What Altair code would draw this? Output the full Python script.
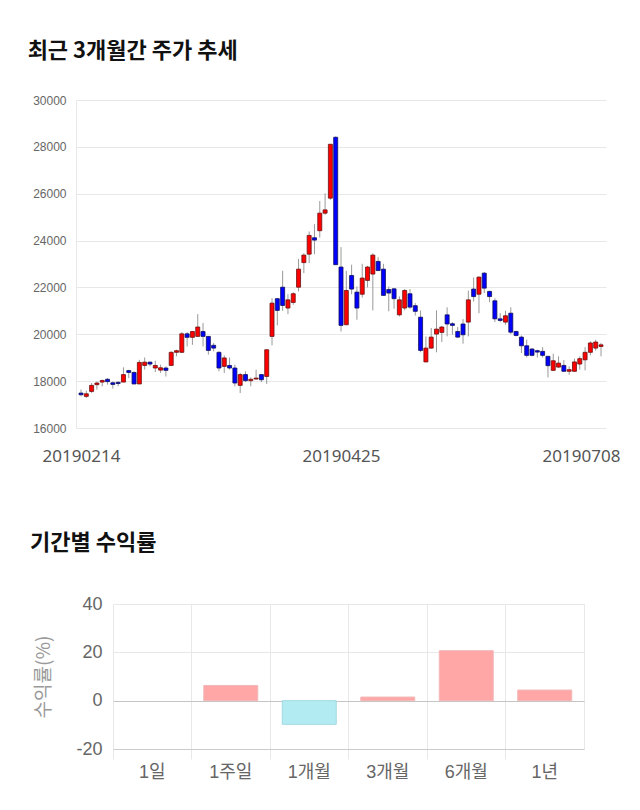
import altair as alt
import pandas as pd

# ---- candlestick data (20190214 .. 20190708, 99 trading days) ----
opens = [17490, 17350, 17560, 17850, 17960, 18080, 17930, 17950, 17960, 18450,
         18370, 17880, 18670, 18810, 18560, 18470, 18560, 18670, 19230, 19230,
         20020, 19870, 19910, 20120, 19910, 19530, 19230, 18630, 18670, 18560,
         17820, 18280, 18020, 18090, 18280, 18200, 19910, 21520, 22010, 21120,
         21360, 22010, 23060, 23420, 24120, 24420, 25170, 25810, 28410, 22870,
         20410, 22510, 21800, 21710, 22300, 22570, 23110, 22780, 21910, 21940,
         20830, 21120, 21730, 21220, 20730, 18820, 19410, 20010, 20080, 20830,
         20450, 20120, 20440, 20520, 21930, 21710, 22610, 21830, 21430, 20660,
         20520, 20900, 20120, 19880, 19510, 19370, 19300, 19270, 19060, 18460,
         18600, 18670, 18420, 18420, 18730, 18910, 19230, 19410, 19480]
closes = [17420, 17460, 17820, 17920, 18030, 17980, 17860, 17900, 18280, 18370,
          17880, 18800, 18810, 18730, 18670, 18570, 18460, 19230, 19300, 20020,
          19870, 20120, 20310, 19910, 19310, 19410, 18560, 18990, 18560, 17920,
          18280, 18020, 18080, 18130, 18060, 19340, 21330, 21020, 21230, 21470,
          21730, 22780, 23380, 24220, 24020, 25170, 25310, 28110, 22970, 20380,
          21870, 21930, 21120, 22400, 22870, 23380, 22720, 21660, 21760, 21520,
          21470, 21870, 21160, 20980, 19310, 19410, 19880, 20220, 20310, 20440,
          20380, 19880, 19980, 21470, 21610, 22440, 21970, 21610, 20660, 20590,
          20790, 20090, 19950, 19510, 19100, 19100, 19240, 19100, 18660, 18870,
          18770, 18420, 18490, 18820, 18960, 19230, 19630, 19670, 19550]
highs = [17640, 17590, 17920, 17990, 18060, 18130, 17990, 17990, 18590, 18490,
         18420, 18910, 19010, 18840, 18870, 18700, 18630, 19270, 19340, 20090,
         20090, 20120, 20860, 20480, 19910, 19630, 19270, 19100, 19010, 18700,
         18350, 18420, 18160, 18490, 18300, 19340, 21540, 21540, 22710, 21710,
         21800, 23220, 23460, 24390, 24700, 25690, 26020, 28110, 28440, 23720,
         22710, 22970, 22040, 23010, 22920, 23460, 23290, 23010, 22040, 21970,
         21620, 21930, 21930, 21330, 21020, 19910, 20270, 21020, 20360, 21150,
         20520, 20310, 20650, 21860, 22420, 22470, 22650, 21860, 21540, 20900,
         21000, 21150, 20150, 19950, 19770, 19410, 19340, 19450, 19060, 19170,
         19060, 18900, 18630, 18960, 19060, 19450, 19700, 19770, 19630]
lows = [17350, 17280, 17490, 17640, 17780, 17850, 17680, 17780, 17960, 18130,
        17880, 17880, 18490, 18630, 18390, 18350, 18200, 18670, 19060, 19200,
        19480, 19550, 19910, 19480, 19130, 19270, 18420, 18350, 18490, 17780,
        17490, 17960, 17780, 18060, 17960, 17880, 19530, 20380, 21000, 20860,
        21260, 21830, 22610, 23040, 23420, 24130, 25100, 25740, 22970, 20120,
        20380, 21710, 20620, 21570, 22000, 21020, 22710, 21660, 20980, 21090,
        20760, 21020, 21090, 20800, 19230, 18820, 19380, 19230, 19670, 19910,
        19980, 19840, 19600, 19910, 21400, 20900, 21760, 21370, 20520, 20520,
        20410, 20010, 19910, 19200, 19010, 19060, 19010, 19010, 18160, 18450,
        18560, 18390, 18270, 18390, 18490, 18460, 19100, 19300, 19060]
tick_idx = [0, 49, 98]
tick_labels = ["20190214", "20190425", "20190708"]
price_ticks = [16000, 18000, 20000, 22000, 24000, 26000, 28000, 30000]

# ---- period return data ----
periods = ["1일", "1주일", "1개월", "3개월", "6개월", "1년"]
returns = [0.0, 6.3, -9.8, 1.5, 20.7, 4.4]
return_ticks = [-20, 0, 20, 40]

cdf = pd.DataFrame({
    "idx": list(range(len(opens))),
    "open": opens, "close": closes, "high": highs, "low": lows,
})
rdf = pd.DataFrame({"period": periods, "ret": returns})

label_expr = " : ".join(
    f"datum.value == {i} ? '{t}'" for i, t in zip(tick_idx[:-1], tick_labels[:-1])
) + f" : '{tick_labels[-1]}'"

x_top = alt.X(
    "idx:Q",
    scale=alt.Scale(domain=[0, len(opens) - 1], nice=False, zero=False),
    axis=alt.Axis(
        values=tick_idx, labelExpr=label_expr, grid=False, domain=False, ticks=False,
        labelFontSize=17, labelColor="#555", labelFont="Noto Sans", labelPadding=20,
        labelOffset={"condition": {"test": f"datum.value == {tick_idx[-1]}", "value": -20}, "value": 0},
        title=None,
    ),
)
y_scale = alt.Scale(domain=[16000, 30000], nice=False, zero=False)
y_axis = alt.Axis(
    values=price_ticks, format="d", labelFontSize=12, labelColor="#666",
    labelFont="Liberation Sans", labelPadding=10, gridColor="#e8e8e8",
    domain=True, domainColor="#e8e8e8", ticks=False, title=None,
)

up = "datum.close >= datum.open"
wicks = alt.Chart(cdf).mark_rule(color="#999999", strokeWidth=1).encode(
    x=x_top,
    y=alt.Y("low:Q", scale=y_scale, axis=y_axis),
    y2="high:Q",
)
bodies = alt.Chart(cdf).mark_bar(size=4, strokeWidth=0.8, orient="vertical").encode(
    x="idx:Q",
    y="open:Q",
    y2="close:Q",
    color=alt.condition(up, alt.value("#ff0000"), alt.value("#0000ff")),
    stroke=alt.condition(up, alt.value("#6a1010"), alt.value("#10105a")),
)
top = alt.layer(wicks, bodies).properties(
    width=530, height=328,
    title=alt.TitleParams(
        text="최근 3개월간 주가 추세", anchor="start", frame="bounds", dx=-5,
        font="Noto Sans CJK KR", fontSize=22, fontWeight="bold", color="#111", offset=31,
    ),
    view=alt.ViewBackground(stroke=None),
)

# bottom panel: shares the left edge of the top panel; the band range starts
# 37px in so that the y labels sit inside the panel's left margin
band_scale = alt.Scale(range=[37, 508], paddingInner=0, paddingOuter=0)
y_ret_scale = alt.Scale(domain=[-20, 40], nice=False)
neg = "datum.ret < 0"
bars = alt.Chart(rdf).mark_bar(size=54, strokeWidth=1).encode(
    x=alt.X(
        "period:N", sort=periods, scale=band_scale,
        axis=alt.Axis(
            bandPosition=0, labelAngle=0, grid=True, gridColor="#e8e8e8",
            ticks=True, tickSize=10, tickColor="#e8e8e8", domain=True, domainColor="#cccccc",
            labelFontSize=18, labelColor="#666", labelFont="Liberation Sans, Noto Sans CJK KR",
            labelPadding=4, title=None,
        ),
    ),
    y=alt.Y(
        "ret:Q", scale=y_ret_scale,
        axis=alt.Axis(
            values=return_ticks, labelExpr="datum.value + ''", labelFontSize=18, labelColor="#666",
            labelFont="Liberation Sans", labelPadding=11, domain=False, ticks=False, offset=-37,
            gridColor={"condition": {"test": "datum.value === 0", "value": "#c4c4c4"}, "value": "#e8e8e8"},
            title="수익률(%)", titleFontSize=19, titleFontWeight="normal", titleColor="#999",
            titleFont="Noto Sans CJK KR", titlePadding=22,
        ),
    ),
    color=alt.condition(neg, alt.value("#b2ebf2"), alt.value("#ffa7a7")),
    stroke=alt.condition(neg, alt.value("#a3d9e2"), alt.value("#f2b9b9")),
    strokeOpacity=alt.condition("datum.ret == 0", alt.value(0), alt.value(1)),
)
band_ends = alt.Chart(rdf).mark_bar(size=54, opacity=0).encode(
    x=alt.X(
        "period:N", sort=periods, scale=band_scale,
        axis=alt.Axis(
            orient="top", bandPosition=1, grid=True, gridColor="#e8e8e8",
            ticks=False, labels=False, domain=False, title=None,
        ),
    ),
)
bottom = alt.layer(bars, band_ends).resolve_axis(x="independent").properties(
    width=508, height=145,
    title=alt.TitleParams(
        text="기간별 수익률", anchor="start", frame="bounds", dx=-5,
        font="Noto Sans CJK KR", fontSize=22, fontWeight="bold", color="#111", offset=40,
    ),
    view=alt.ViewBackground(stroke=None),
)

chart = alt.vconcat(top, bottom, spacing=68).properties(
    padding={"left": 27, "top": 40, "right": 5, "bottom": 5},
    background="white",
)

chart.save("out.html", embed_options={"renderer": "svg", "actions": False})
